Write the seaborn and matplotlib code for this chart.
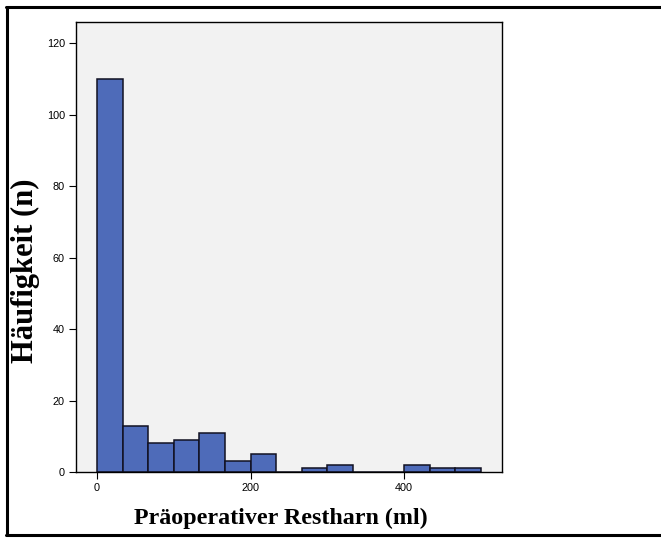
import numpy as np
import matplotlib
matplotlib.use("Agg")
import matplotlib.pyplot as plt
import seaborn as sns

# --- Daten: Klassengrenzen und Häufigkeiten (Restharn in ml) ---
bin_edges = [0, 33.33, 66.67, 100, 133.33, 166.67, 200, 233.33, 266.67,
             300, 333.33, 366.67, 400, 433.33, 466.67, 500]
haeufigkeit = [110, 13, 8, 9, 11, 3, 5, 0, 1, 2, 0, 0, 2, 1, 1]
y_ticks = [0, 20, 40, 60, 80, 100, 120]
x_ticks = [0, 200, 400]

mitten = [(a + b) / 2 for a, b in zip(bin_edges[:-1], bin_edges[1:])]

sns.set_style("white")
plt.rcParams['font.family'] = ['Liberation Sans', 'DejaVu Sans']
plt.rcParams['text.color'] = 'black'

fig = plt.figure(figsize=(6.61, 5.38), dpi=100)
ax = fig.add_axes([76/661, 1 - 472/538, (502 - 76)/661, (472 - 22)/538])
ax.set_facecolor("#f2f2f2")

sns.histplot(x=mitten, weights=haeufigkeit, bins=bin_edges, ax=ax,
             color="#4e6bb9", alpha=1, edgecolor="#111122", linewidth=1.1)

ax.set_xlim(-27.4, 527.7)
ax.set_ylim(0, 126)
ax.set_xticks(x_ticks)
ax.set_yticks(y_ticks)
ax.tick_params(axis="both", direction="out", length=5, width=0.8,
               labelsize=7.8, pad=3, colors="black", bottom=True, left=True)
for s in ax.spines.values():
    s.set_visible(True)
    s.set_color("black")
    s.set_linewidth(1.0)
ax.set_xlabel("")
ax.set_ylabel("")

# Achsentitel (fett, Serifenschrift)
fig.text(281/661, 1 - 518/538, "Präoperativer Restharn (ml)",
         ha="center", va="center", fontsize=17.3, fontweight="bold",
         family="Liberation Serif", color="black")
fig.text(25/661, 1 - 271/538, "Häufigkeit (n)", rotation=90,
         ha="center", va="center", fontsize=22, fontweight="bold",
         family="Liberation Serif", color="black")

# äußerer Rahmen
lw = 2.2
fig.add_artist(plt.Line2D([7.3/661, 7.3/661], [1 - 535.3/538, 1 - 7.3/538],
                          transform=fig.transFigure, color="black", lw=lw))
fig.add_artist(plt.Line2D([6/661, 1.0], [1 - 7.3/538, 1 - 7.3/538],
                          transform=fig.transFigure, color="black", lw=lw))
fig.add_artist(plt.Line2D([6/661, 1.0], [1 - 535.3/538, 1 - 535.3/538],
                          transform=fig.transFigure, color="black", lw=lw))

fig.savefig("out.png", dpi=100)
